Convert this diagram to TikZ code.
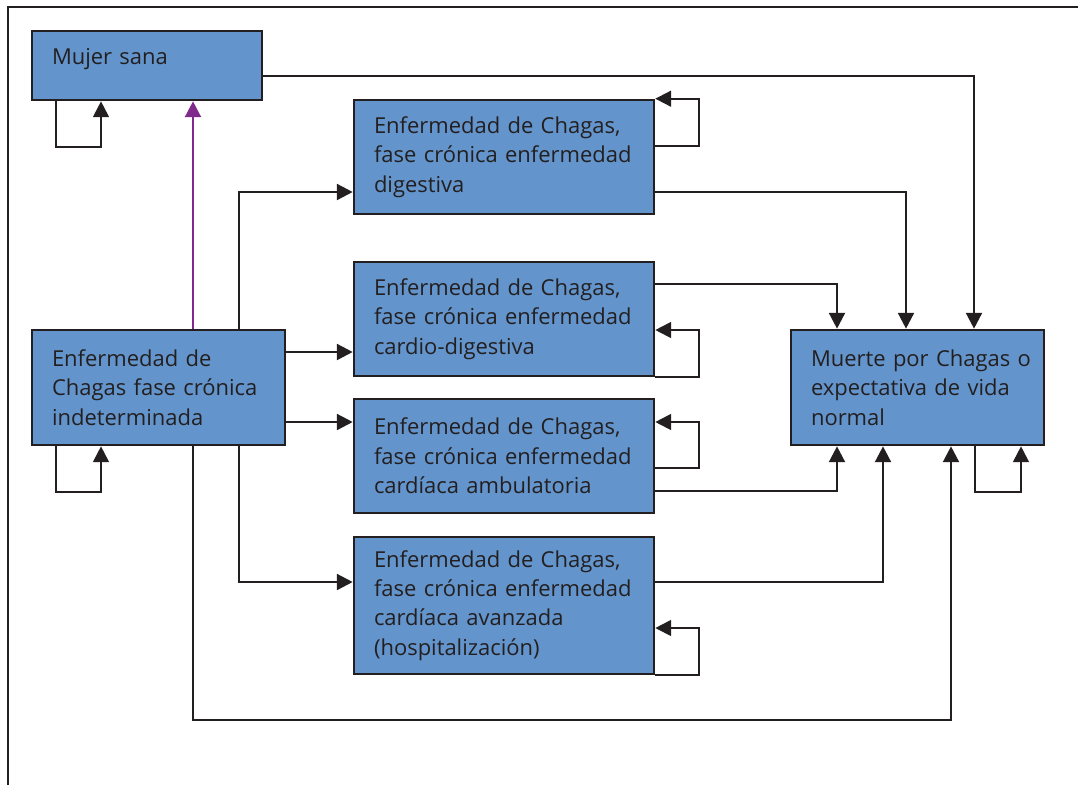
\documentclass[tikz,border=0pt]{standalone}
\usepackage{fontspec}
\setmainfont{Open Sans}
\usetikzlibrary{arrows.meta}

\definecolor{cajaazul}{RGB}{99,149,204}
\definecolor{textogris}{RGB}{35,31,32}
\definecolor{violeta}{RGB}{128,42,140}

\begin{document}
\begin{tikzpicture}[x=0.02cm, y=-0.02cm,
    estado/.style={draw=textogris, line width=1.5pt, fill=cajaazul, text=textogris,
        align=left, inner xsep=0pt, inner ysep=0pt,
        font=\fontsize{12.5}{16.7}\selectfont},
    flecha/.style={draw=textogris, line width=1.4pt, -{Triangle[length=9pt,width=9pt]}},
    bucle/.style={flecha, line width=1.1pt},
]
    \useasboundingbox (0,0) rectangle (1078,785);

    % Frame (cropped)
    \draw[textogris, line width=1.2pt] (8,785) -- (8,7) -- (1078,7);

    % --- States ---
    \node[estado, minimum width=4.6cm, minimum height=1.38cm, text width=3.8cm,
          text depth=0.37cm] (sana) at (147,65.5) {Mujer sana};
    \node[estado, minimum width=5.06cm, minimum height=2.3cm, text width=4.26cm]
        (indet) at (158.5,387.5) {Enfermedad de\\Chagas fase crónica\\indeterminada};
    \node[estado, minimum width=6cm, minimum height=2.28cm, text width=5.2cm]
        (dig) at (504,157) {Enfermedad de Chagas,\\fase crónica enfermedad\\digestiva};
    \node[estado, minimum width=6cm, minimum height=2.28cm, text width=5.2cm]
        (cdig) at (504,319) {Enfermedad de Chagas,\\fase crónica enfermedad\\cardio-digestiva};
    \node[estado, minimum width=6cm, minimum height=2.28cm, text width=5.2cm]
        (amb) at (504,456) {Enfermedad de Chagas,\\fase crónica enfermedad\\cardíaca ambulatoria};
    \node[estado, minimum width=6cm, minimum height=2.74cm, text width=5.2cm]
        (avz) at (504,605.5) {Enfermedad de Chagas,\\fase crónica enfermedad\\cardíaca avanzada\\(hospitalización)};
    \node[estado, minimum width=5.06cm, minimum height=2.3cm, text width=4.26cm]
        (muerte) at (917.5,387.5) {\mbox{Muerte por Chagas o}\\expectativa de vida\\normal};

    % --- Mujer sana ---
    \draw[bucle] (sana.south -| 56,0) -- ++(0,46) -| (sana.south -| 101,0);
    \draw[flecha] (sana.east |- 0,76) -| (muerte.north -| 974,0);
    \draw[flecha, draw=violeta] (indet.north -| 193,0) -- (sana.south -| 193,0);

    % --- Indeterminada ---
    \draw[bucle] (indet.south -| 56,0) -- ++(0,46) -| (indet.south -| 101,0);
    \draw[flecha] (indet.north -| 239,0) |- (dig.west |- 0,192);
    \draw[flecha] (indet.east |- 0,352) -- (cdig.west |- 0,352);
    \draw[flecha] (indet.east |- 0,422) -- (amb.west |- 0,422);
    \draw[flecha] (indet.south -| 239,0) |- (avz.west |- 0,582);
    \draw[flecha] (indet.south -| 193,0) -- (193,720) -| (muerte.south -| 951,0);

    % --- Fase cronica ---
    \draw[bucle] (dig.east |- 0,146) -- ++(44,0) |- (dig.north east);
    \draw[flecha] (dig.east |- 0,192) -| (muerte.north -| 906,0);
    \draw[bucle] (cdig.south east) -- ++(44,0) |- (cdig.east |- 0,330);
    \draw[flecha] (cdig.east |- 0,284) -| (muerte.north -| 837,0);
    \draw[bucle] (amb.east |- 0,468) -- ++(44,0) |- (amb.east |- 0,422);
    \draw[flecha] (amb.east |- 0,491) -| (muerte.south -| 837,0);
    \draw[bucle] (avz.south east) -- ++(44,0) |- (avz.east |- 0,628);
    \draw[flecha] (avz.east |- 0,582) -| (muerte.south -| 883,0);

    % --- Muerte ---
    \draw[bucle] (muerte.south -| 975,0) -- ++(0,46) -| (muerte.south -| 1021,0);
\end{tikzpicture}
\end{document}
